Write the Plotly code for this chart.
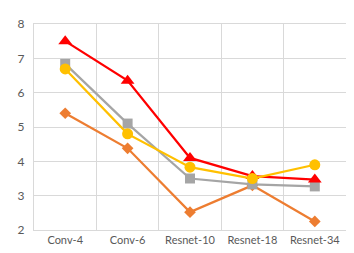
import plotly.graph_objects as go

categories = ["Conv-4", "Conv-6", "Resnet-10", "Resnet-18", "Resnet-34"]
orange_vals = [5.4, 4.38, 2.52, 3.3, 2.25]
gray_vals = [6.84, 5.1, 3.5, 3.33, 3.27]
red_vals = [7.5, 6.35, 4.1, 3.57, 3.47]
yellow_vals = [6.69, 4.8, 3.83, 3.5, 3.9]
y_ticks = [2, 3, 4, 5, 6, 7, 8]

xpos = list(range(len(categories)))
boundaries = [i - 0.5 for i in range(len(categories) + 1)]

fig = go.Figure()
series = [
    (orange_vals, "#ED7D31", "diamond", 9),
    (gray_vals, "#A5A5A5", "square", 10),
    (red_vals, "#FF0000", "triangle-up", 12),
    (yellow_vals, "#FFC000", "circle", 11),
]
for vals, col, sym, sz in series:
    fig.add_trace(go.Scatter(
        x=xpos, y=vals, mode="lines+markers",
        line=dict(color=col, width=2.25),
        marker=dict(symbol=sym, size=sz, color=col),
        showlegend=False, cliponaxis=False,
    ))

fig.update_layout(
    width=354, height=253,
    margin=dict(l=26, r=16, t=16, b=31),
    paper_bgcolor="white", plot_bgcolor="white",
    font=dict(family="Lato, Open Sans, sans-serif", size=11, color="#595959"),
)
fig.update_xaxes(
    range=[-0.5, 4.5], tickvals=xpos, ticktext=categories, showgrid=False,
    zeroline=False,
    minor=dict(tickvals=boundaries, showgrid=True, gridcolor="#D9D9D9", gridwidth=1.3, ticks=""),
    showline=True, linecolor="#D9D9D9", linewidth=1.3, mirror=True, ticks="", ticklen=0,
    automargin=False,
    tickfont=dict(size=11, color="#595959"),
)
fig.update_yaxes(
    range=[2, 8], tickvals=y_ticks, showgrid=True, gridcolor="#D9D9D9", gridwidth=1.3,
    showline=True, linecolor="#D9D9D9", linewidth=1.3, mirror=True, zeroline=False,
    ticks="outside", ticklen=6, tickcolor="rgba(0,0,0,0)",
    automargin=False,
    tickfont=dict(size=12, color="#595959"),
)
fig.write_html("out.html")
